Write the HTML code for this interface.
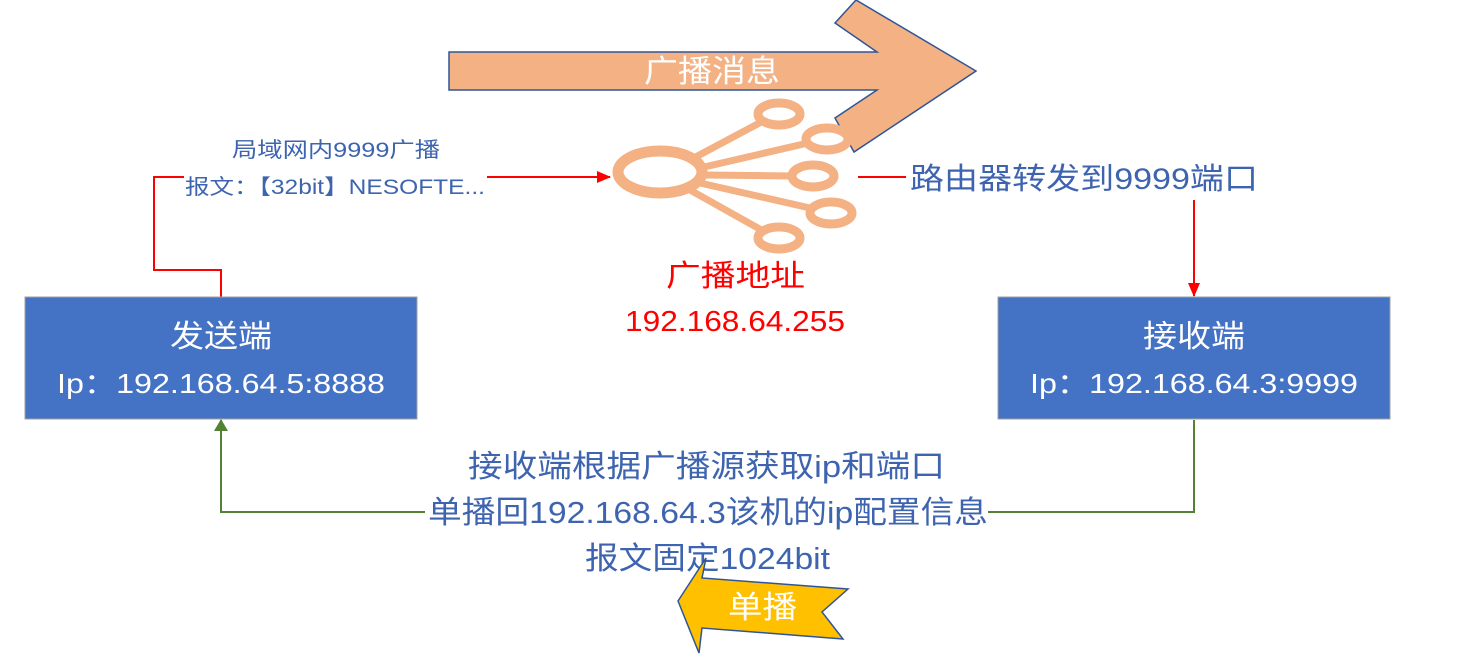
<!DOCTYPE html>
<html><head><meta charset="utf-8"><style>
html,body{margin:0;padding:0;background:#fff;width:1463px;height:671px;overflow:hidden}
text{font-family:"Liberation Sans","Noto Sans CJK SC",sans-serif}
</style></head><body>
<svg width="1463" height="671" viewBox="0 0 1463 671" xmlns="http://www.w3.org/2000/svg">
<defs>
<marker id="ar" markerWidth="14" markerHeight="12" refX="13" refY="6" orient="auto" markerUnits="userSpaceOnUse"><path d="M0,0 L14,6 L0,12 z" fill="#FF0000"/></marker>
<marker id="ag" markerWidth="12" markerHeight="14" refX="11" refY="7" orient="auto" markerUnits="userSpaceOnUse"><path d="M0,0 L12,7 L0,14 z" fill="#548235"/></marker>
</defs>
<path d="M449,52 L877,52 L835,23 L856,0 L976,71 L854,152 L835,118 L877,90 L449,90 Z" fill="#F4B183" stroke="#2F5597" stroke-width="1.5"/>
<text x="644" y="82" font-size="31" fill="#fff" textLength="136" lengthAdjust="spacingAndGlyphs">广播消息</text>
<g stroke="#F4B183" fill="none">
<g stroke-width="7">
<line x1="690" y1="160" x2="765" y2="120"/>
<line x1="700" y1="168" x2="808" y2="143"/>
<line x1="705" y1="175" x2="793" y2="176"/>
<line x1="700" y1="183" x2="810" y2="208"/>
<line x1="690" y1="190" x2="765" y2="232"/>
</g>
<ellipse cx="660" cy="172" rx="42" ry="21" stroke-width="11" fill="#fff"/>
<g stroke-width="9" fill="#fff">
<ellipse cx="779" cy="114" rx="21" ry="11"/>
<ellipse cx="827" cy="139" rx="21" ry="11"/>
<ellipse cx="813" cy="176" rx="21" ry="11"/>
<ellipse cx="831" cy="213" rx="21" ry="11"/>
<ellipse cx="779" cy="238" rx="21" ry="11"/>
</g>
</g>
<path d="M221,297 L221,270 L154,270 L154,177 L184,177" fill="none" stroke="#FF0000" stroke-width="2"/>
<line x1="487" y1="177" x2="610" y2="177" stroke="#FF0000" stroke-width="2" marker-end="url(#ar)"/>
<line x1="858" y1="177" x2="906" y2="177" stroke="#FF0000" stroke-width="2"/>
<line x1="1194" y1="200" x2="1194" y2="296" stroke="#FF0000" stroke-width="2" marker-end="url(#ar)"/>
<text x="232" y="157" font-size="21" fill="#3E64B0" textLength="208" lengthAdjust="spacingAndGlyphs">局域网内9999广播</text>
<text x="185" y="194" font-size="21" fill="#3E64B0" textLength="300" lengthAdjust="spacingAndGlyphs">报文：【32bit】NESOFTE...</text>
<text x="910" y="189" font-size="30" fill="#3E64B0" textLength="348" lengthAdjust="spacingAndGlyphs">路由器转发到9999端口</text>
<text x="666" y="286" font-size="30" fill="#FF0000" textLength="139" lengthAdjust="spacingAndGlyphs">广播地址</text>
<text x="625" y="331" font-size="29" fill="#FF0000" textLength="220" lengthAdjust="spacingAndGlyphs">192.168.64.255</text>
<rect x="25" y="297" width="392" height="122" fill="#4472C4" stroke="#A0A0A0" stroke-width="1"/>
<text x="170" y="347" font-size="31" fill="#fff" textLength="102" lengthAdjust="spacingAndGlyphs">发送端</text>
<text x="57" y="393" font-size="28" fill="#fff" textLength="328" lengthAdjust="spacingAndGlyphs">Ip：192.168.64.5:8888</text>
<rect x="998" y="297" width="392" height="122" fill="#4472C4" stroke="#A0A0A0" stroke-width="1"/>
<text x="1143" y="347" font-size="31" fill="#fff" textLength="102" lengthAdjust="spacingAndGlyphs">接收端</text>
<text x="1030" y="393" font-size="28" fill="#fff" textLength="328" lengthAdjust="spacingAndGlyphs">Ip：192.168.64.3:9999</text>
<path d="M1194,420 L1194,512 L988,512" fill="none" stroke="#548235" stroke-width="2"/>
<path d="M425,512 L221,512 L221,420" fill="none" stroke="#548235" stroke-width="2" marker-end="url(#ag)"/>
<text x="468" y="477" font-size="31" fill="#3E64B0" textLength="477" lengthAdjust="spacingAndGlyphs">接收端根据广播源获取ip和端口</text>
<text x="428" y="523" font-size="31" fill="#3E64B0" textLength="560" lengthAdjust="spacingAndGlyphs">单播回192.168.64.3该机的ip配置信息</text>
<text x="585" y="569" font-size="31" fill="#3E64B0" textLength="245" lengthAdjust="spacingAndGlyphs">报文固定1024bit</text>
<path d="M678,601 L706,558 L702,578 L848,589 L822,612 L843,639 L702,628 L699,653 Z" fill="#FFC000" stroke="#2F5597" stroke-width="1.5"/>
<text x="728" y="618" font-size="31" fill="#fff" textLength="69" lengthAdjust="spacingAndGlyphs">单播</text>
</svg>
</body></html>
